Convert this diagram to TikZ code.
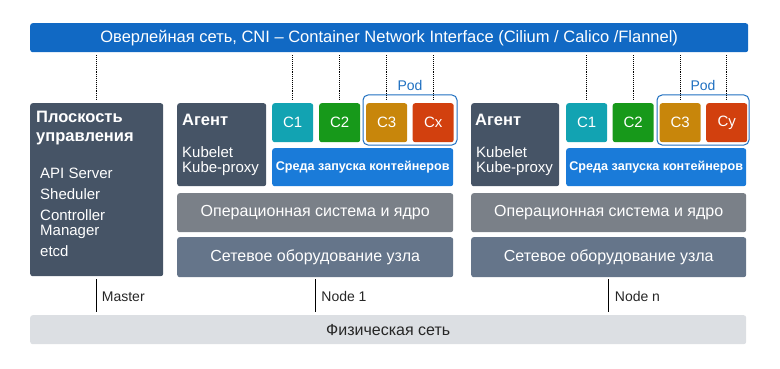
\documentclass[tikz,border=0pt]{standalone}
\usepackage{fontspec}
\setmainfont{Liberation Sans}
\usetikzlibrary{calc}

\definecolor{cniblue}{HTML}{1169C4}
\definecolor{rtblue}{HTML}{1A7BD9}
\definecolor{slate}{HTML}{465466}
\definecolor{osgray}{HTML}{7A8088}
\definecolor{hwgray}{HTML}{65758A}
\definecolor{physgray}{HTML}{DCDFE3}
\definecolor{cteal}{HTML}{12A3B2}
\definecolor{cgreen}{HTML}{17991A}
\definecolor{corange}{HTML}{C8860B}
\definecolor{cred}{HTML}{D2400E}
\definecolor{podblue}{HTML}{1E6FC0}

\tikzset{
  box/.style={draw=none, rounded corners=2.5pt, anchor=north west, inner sep=0pt, text=white},
  ctr/.style={box, minimum width=41pt, minimum height=39pt, font=\fontsize{15}{17}\selectfont},
  wide/.style={box, font=\fontsize{16}{18}\selectfont},
  lbl/.style={anchor=base west, inner sep=0pt, text=white},
  item/.style={lbl, font=\fontsize{15}{17}\selectfont},
  ttl/.style={lbl, font=\bfseries\fontsize{16.5}{18}\selectfont},
  netlink/.style={densely dotted, line width=0.9pt, black},
  hostlink/.style={line width=1.1pt, black},
  podframe/.style={draw=podblue, line width=1pt, rounded corners=5pt},
  podlbl/.style={text=podblue, font=\fontsize{14}{16}\selectfont, inner sep=0pt},
  hostname/.style={anchor=west, inner sep=0pt, font=\fontsize{14}{16}\selectfont, text=black!85}
}

\begin{document}
\begin{tikzpicture}[x=1pt, y=-1pt]
\useasboundingbox (0,0) rectangle (780,369);

% overlay network bar
\node[box, fill=cniblue, minimum width=718pt, minimum height=29pt, font=\fontsize{16.5}{18}\selectfont] (cni) at (30,23)
  {Оверлейная сеть, CNI – Container Network Interface (Cilium / Calico /Flannel)};

% physical network bar
\node[box, fill=physgray, minimum width=716pt, minimum height=29pt, text=black!85, font=\fontsize{16}{18}\selectfont] (phys) at (30,315)
  {Физическая сеть};

% control plane (text positions are baselines)
\node[box, fill=slate, minimum width=133pt, minimum height=173pt] (master) at (30,103) {};
\node[ttl] (mt1) at (36,123) {Плоскость};
\node[ttl] (mt2) at (36,141) {управления};
\node[item] (api) at (40,178.5) {API Server};
\node[item] (sch) at (40,199.5) {Sheduler};
\node[item] (cm1) at (40,220.5) {Controller};
\node[item] (cm2) at (40,235.5) {Manager};
\node[item] (etcd) at (40,256.5) {etcd};

% worker node 1
\node[box, fill=slate, minimum width=89pt, minimum height=83pt] (ag1) at (177,103) {};
\node[ttl] (ag1t) at (182,125) {Агент};
\node[item] (ag1a) at (182,157.5) {Kubelet};
\node[item] (ag1b) at (182,172.5) {Kube-proxy};
\node[ctr, fill=cteal] (a1) at (272,103) {C1};
\node[ctr, fill=cgreen] (a2) at (319,103) {C2};
\node[ctr, fill=corange] (a3) at (366,103) {C3};
\node[ctr, fill=cred] (a4) at (412.5,103) {Cx};
\node[wide, fill=rtblue, minimum width=181pt, minimum height=38pt, font=\bfseries\fontsize{12.6}{14}\selectfont] (rt1) at (272,148) {Среда запуска контейнеров};
\node[wide, fill=osgray, minimum width=276pt, minimum height=39pt] (os1) at (177,193) {Операционная система и ядро};
\node[wide, fill=hwgray, minimum width=276pt, minimum height=40pt] (hw1) at (177,237) {Сетевое оборудование узла};
\draw[podframe] (363,95) rectangle (457,145);
\node[podlbl] (pod1) at (410,85) {Pod};

% worker node n
\node[box, fill=slate, minimum width=88pt, minimum height=83pt] (ag2) at (471,103) {};
\node[ttl] (ag2t) at (475,125) {Агент};
\node[item] (ag2a) at (476,157.5) {Kubelet};
\node[item] (ag2b) at (476,172.5) {Kube-proxy};
\node[ctr, fill=cteal] (b1) at (566,103) {C1};
\node[ctr, fill=cgreen] (b2) at (612.5,103) {C2};
\node[ctr, fill=corange] (b3) at (659.5,103) {C3};
\node[ctr, fill=cred] (b4) at (706,103) {Cy};
\node[wide, fill=rtblue, minimum width=180pt, minimum height=38pt, font=\bfseries\fontsize{12.6}{14}\selectfont] (rt2) at (566,148) {Среда запуска контейнеров};
\node[wide, fill=osgray, minimum width=275pt, minimum height=39pt] (os2) at (471,193) {Операционная система и ядро};
\node[wide, fill=hwgray, minimum width=275pt, minimum height=40pt] (hw2) at (471,237) {Сетевое оборудование узла};
\draw[podframe] (657,95) rectangle (749,145);
\node[podlbl] (pod2) at (703,85) {Pod};

% overlay attachments
\foreach \n in {master,a1,a2,a3,a4,b1,b2,b3,b4}
  \draw[netlink] ($(\n.north |- cni.south)+(0,3)$) -- ($(\n.north)+(0,-3)$);

% host uplinks to the physical network
\draw[hostlink] ($(master.south)+(0,3)$) -- ($(master.south |- phys.north)+(0,-3)$);
\draw[hostlink] ($(hw1.south)+(0,2)$) -- ($(hw1.south |- phys.north)+(0,-3)$);
\draw[hostlink] ($(hw2.south)+(0,2)$) -- ($(hw2.south |- phys.north)+(0,-3)$);
\node[hostname] (mlab) at ($(master.south)+(5,20)$) {Master};
\node[hostname] (n1lab) at ($(hw1.south)+(6,19)$) {Node 1};
\node[hostname] (nnlab) at ($(hw2.south)+(6,19)$) {Node n};
\end{tikzpicture}
\end{document}
